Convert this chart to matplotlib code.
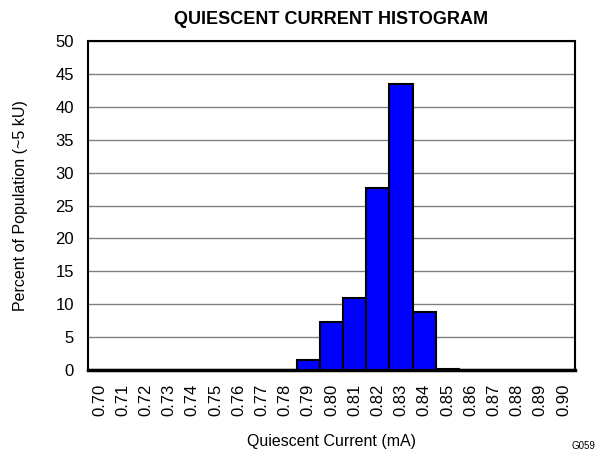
import numpy as np
import matplotlib
matplotlib.use("Agg")
import matplotlib.pyplot as plt

plt.rcParams["font.family"] = ["Liberation Sans", "DejaVu Sans"]

# bin centres (mA) and percent of population per bin
currents = ["0.70", "0.71", "0.72", "0.73", "0.74", "0.75", "0.76", "0.77",
            "0.78", "0.79", "0.80", "0.81", "0.82", "0.83", "0.84", "0.85",
            "0.86", "0.87", "0.88", "0.89", "0.90"]
percent = [0, 0, 0, 0, 0, 0, 0, 0, 0.05, 1.5, 7.25, 11.0, 27.7, 43.5, 8.85,
           0.2, 0.05, 0, 0, 0, 0]

fig = plt.figure(figsize=(6.06, 4.57), dpi=100)
ax = fig.add_axes([88 / 606, 1 - 370 / 457, 487 / 606, 329 / 457])

x = np.arange(len(currents))
ax.bar(x, percent, width=1.0, color="#0000ff", edgecolor="black",
       linewidth=1.5, zorder=3)

ax.set_xlim(-0.5, len(currents) - 0.5)
ax.set_ylim(0, 50)
ax.set_yticks(np.arange(0, 51, 5))
ax.set_xticks(x)
ax.set_xticklabels(currents, rotation=90, fontsize=12)
ax.tick_params(axis="y", labelsize=12, length=0, pad=10)
ax.tick_params(axis="x", length=0, pad=10)
ax.grid(axis="y", color="#808080", linewidth=1.0, zorder=0)

for s in ax.spines.values():
    s.set_linewidth(1.5)
ax.spines["bottom"].set_linewidth(2.5)

ax.set_title("QUIESCENT CURRENT HISTOGRAM", fontsize=13, fontweight="bold", pad=12)
ax.set_xlabel("Quiescent Current (mA)", fontsize=11.5, labelpad=13)
ax.set_ylabel("Percent of Population (~5 kU)", fontsize=11.5, labelpad=20)
fig.text(572 / 606, 1 - 449 / 457, "G059", fontsize=7)

fig.savefig("out.png", dpi=100)
